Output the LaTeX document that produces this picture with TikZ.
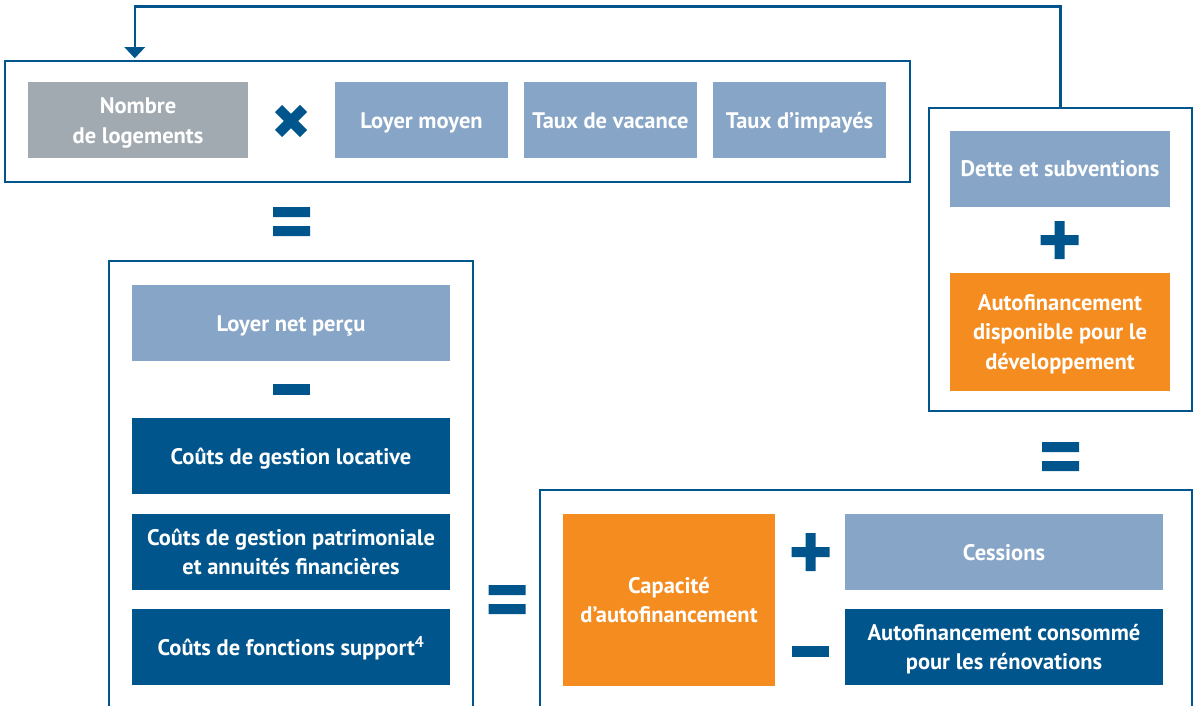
\documentclass[tikz,border=0pt]{standalone}
\usepackage{fontspec}
\setmainfont{PT Sans}
\usepackage{tikz}
\usetikzlibrary{arrows.meta,positioning,calc}
\definecolor{navy}{RGB}{0,85,140}
\definecolor{steel}{RGB}{135,165,199}
\definecolor{slate}{RGB}{162,170,177}
\definecolor{amber}{RGB}{245,140,32}
% operator signs
\newcommand{\opplus}[1]{\fill[navy] (#1) ++(-19,-5) rectangle ++(38,10)
  (#1) ++(-5,-19) rectangle ++(10,38);}
\newcommand{\opminus}[1]{\fill[navy] (#1) ++(-18.5,-5.5) rectangle ++(37,11);}
\newcommand{\opequal}[1]{\fill[navy] (#1) ++(-18.5,-14.5) rectangle ++(37,10)
  (#1) ++(-18.5,4.5) rectangle ++(37,10);}
\newcommand{\optimes}[1]{\draw[navy, line width=10pt] (#1) ++(-12.5,-12.5) -- ++(25,25)
  (#1) ++(-12.5,12.5) -- ++(25,-25);}

\begin{document}
\begin{tikzpicture}[x=1pt, y=-1pt,
  cell/.style={inner sep=0pt, minimum height=76pt, align=center, text=white,
    text depth=0pt, font=\fontsize{22.5}{29.5}\selectfont\bfseries},
  oneline/.style={text height=16pt},
  frame/.style={draw=navy, line width=2.5pt, inner sep=0pt},
  backarrow/.style={draw=navy, line width=2.5pt,
    -{Triangle[width=20pt, length=11pt]}}
]
\useasboundingbox (0,0) rectangle (1197,706);

% Top frame: rent product
\node[frame, minimum width=905pt, minimum height=121pt] (ftop) at (457.5,121.5) {};
\node[cell, fill=slate, minimum width=220pt] (nbr) at (138,120.5) {Nombre\\de logements};
\optimes{291,121}
\node[cell, oneline, fill=steel, minimum width=173pt] (lmoy) at (421.5,120.5) {Loyer moyen};
\node[cell, oneline, fill=steel, minimum width=173pt] (vac) at (610.5,120.5) {Taux de vacance};
\node[cell, oneline, fill=steel, minimum width=173pt] (imp) at (799.5,120.5) {Taux d’impayés};
\opequal{291.5,221.5}

% Left frame: net rent minus costs
\draw[frame] (109,712) -- (109,261) -- (473,261) -- (473,712);
\node[cell, oneline, fill=steel, minimum width=318pt] (lnet) at (291,323) {Loyer net perçu};
\opminus{291.5,389.5}
\node[cell, oneline, fill=navy, minimum width=318pt] (cgl) at (291,456)
  {Coûts de gestion locative};
\node[cell, fill=navy, minimum width=318pt] (cgp) at (291,552)
  {Coûts de gestion patrimoniale\\et annuités financières};
\node[cell, oneline, fill=navy, minimum width=318pt] (cfs) at (291,647)
  {Coûts de fonctions support\textsuperscript{4}};
\opequal{507,599.5}

% Bottom frame: self-financing capacity
\draw[frame] (540,712) -- (540,490) -- (1192,490) -- (1192,712);
\node[cell, fill=amber, minimum width=212pt, minimum height=172pt] (caf) at (669,600)
  {Capacité\\d'autofinancement};
\opplus{810.5,552}
\node[cell, oneline, fill=steel, minimum width=318pt] (ces) at (1004,552) {Cessions};
\opminus{810.5,651.5}
\node[cell, fill=navy, minimum width=318pt] (acr) at (1004,647)
  {Autofinancement consommé\\pour les rénovations};
\opequal{1060.5,456.5}

% Right frame: development
\node[frame, minimum width=263pt, minimum height=303pt] (fright) at (1060.5,259.5) {};
\node[cell, oneline, fill=steel, minimum width=220pt] (dette) at (1060,169)
  {Dette et subventions};
\opplus{1059.5,240}
\node[cell, fill=amber, minimum width=220pt, minimum height=118pt] (adev) at (1060,332)
  {Autofinancement\\disponible pour le\\développement};

% Loop back
\coordinate (ret) at ($(ftop.north west)+(131,-1.5)$);
\draw[backarrow] (fright.north) -- ++(0,-100) -| (ret);

\end{tikzpicture}
\end{document}
